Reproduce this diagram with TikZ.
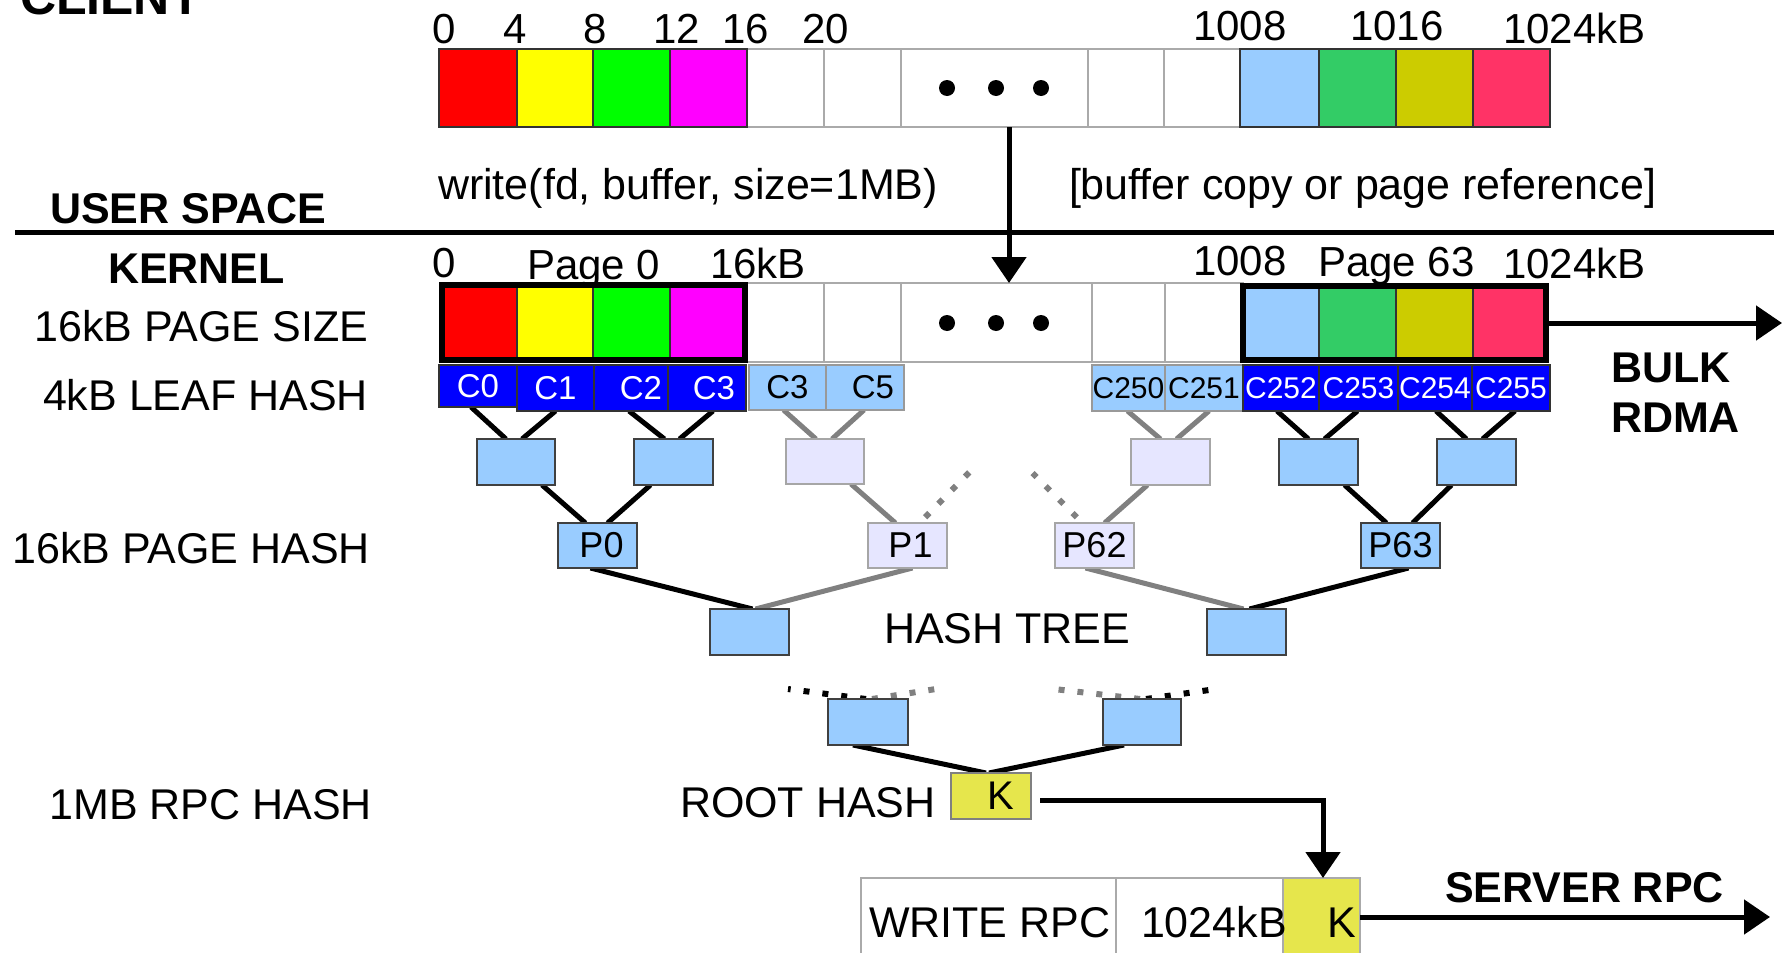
\documentclass[tikz,border=0pt]{standalone}
\usepackage{fontspec}
\setmainfont{Liberation Sans}
\usetikzlibrary{arrows.meta,calc}
\pgfdeclarelayer{bg}
\pgfsetlayers{bg,main}
\definecolor{lblue}{HTML}{99CCFF}
\definecolor{lav}{HTML}{E6E6FF}
\definecolor{dblue}{HTML}{0000FF}
\definecolor{kyel}{HTML}{E6E64C}
\definecolor{cred}{HTML}{FF0000}
\definecolor{cyel}{HTML}{FFFF00}
\definecolor{cgrn}{HTML}{00FF00}
\definecolor{cmag}{HTML}{FF00FF}
\definecolor{cgreen}{HTML}{33CC66}
\definecolor{colive}{HTML}{CCCC00}
\definecolor{cpink}{HTML}{FF3366}
\definecolor{lgray}{HTML}{808080}
\definecolor{cellgray}{HTML}{AAAAAA}
\newcommand\fs[1]{\fontsize{#1}{#1}\selectfont}
\newcommand\bx[7]{\node[#1, minimum width={(#5)-(#3)}, minimum height={(#6)-(#4)}] (#2) at ({((#3)+(#5))/2},{((#4)+(#6))/2}) {#7};}
\begin{document}
\begin{tikzpicture}[x=1pt,y=-1pt,
  cell/.style={draw=cellgray, line width=1.2pt, fill=white, inner sep=0pt, outer sep=0pt},
  ccell/.style={draw=black!80, line width=1.2pt, inner sep=0pt, outer sep=0pt},
  hb/.style={draw=black!75, fill=lblue, line width=1.2pt, inner sep=0pt, outer sep=0pt, font=\fs{36}},
  hl/.style={draw=black!35, fill=lav, line width=1.2pt, inner sep=0pt, outer sep=0pt, font=\fs{36}},
  cd/.style={draw=black!80, fill=dblue, text=white, line width=1.2pt, inner sep=0pt, outer sep=0pt, font=\fs{33}},
  cl/.style={draw=black!40, fill=lblue, line width=1.2pt, inner sep=0pt, outer sep=0pt, font=\fs{33}},
  kbox/.style={draw=black!50, fill=kyel, line width=1.2pt, inner sep=0pt, outer sep=0pt, font=\fs{40}},
  pagebox/.style={draw=black, line width=6pt, inner sep=0pt, outer sep=0pt},
  lbl/.style={inner sep=0pt, outer sep=0pt, anchor=base west, font=\fs{42}},
  rlbl/.style={inner sep=0pt, outer sep=0pt, anchor=base east, font=\fs{43}},
  blbl/.style={inner sep=0pt, outer sep=0pt, anchor=base west, font=\fs{43}\bfseries},
  blk/.style={line width=5pt, black},
  gry/.style={line width=5pt, lgray},
  dotb/.style={line width=6pt, black, dash pattern=on 6pt off 13pt},
  dotg/.style={line width=6pt, lgray, dash pattern=on 6pt off 13pt},
  arr/.style={line width=5pt, -{Triangle[length=26pt,width=34pt]}}
]
\clip (0,0) rectangle (1789,953);
\useasboundingbox (0,0) rectangle (1789,953);

% ---------- left labels ----------
\node[blbl, font=\fs{50}\bfseries] (client) at (20,14) {CLIENT};
\node[blbl] (user) at (50,223) {USER SPACE};
\node[blbl] (kern) at (108,283) {KERNEL};
\node[rlbl] (lps) at (368,341) {16kB PAGE SIZE};
\node[rlbl] (llh) at (368,410) {4kB LEAF HASH};
\node[rlbl] (lph) at (370,563) {16kB PAGE HASH};
\node[rlbl] (lrh) at (372,819) {1MB RPC HASH};

% separator
\draw[line width=5pt] (15,232) -- (1774,232);

% ---------- user buffer ----------
\bx{cell}{u5}{747}{49}{824}{127}{}
\bx{cell}{u6}{824}{49}{901}{127}{}
\bx{cell}{u7}{901}{49}{1088}{127}{}
\bx{cell}{u8}{1088}{49}{1164}{127}{}
\bx{cell}{u9}{1164}{49}{1240}{127}{}
\bx{ccell,fill=cred}{u1}{439}{49}{517}{127}{}
\bx{ccell,fill=cyel}{u2}{517}{49}{593}{127}{}
\bx{ccell,fill=cgrn}{u3}{593}{49}{670}{127}{}
\bx{ccell,fill=cmag}{u4}{670}{49}{747}{127}{}
\bx{ccell,fill=lblue}{u10}{1240}{49}{1319}{127}{}
\bx{ccell,fill=cgreen}{u11}{1319}{49}{1396}{127}{}
\bx{ccell,fill=colive}{u12}{1396}{49}{1473}{127}{}
\bx{ccell,fill=cpink}{u13}{1473}{49}{1550}{127}{}
\fill (947,88) circle (8pt) (996,88) circle (8pt) (1041,88) circle (8pt);

\node[lbl] (t0) at (432,43) {0};
\node[lbl] (t4) at (503,43) {4};
\node[lbl] (t8) at (583,43) {8};
\node[lbl] (t12) at (653,43) {12};
\node[lbl] (t16) at (722,43) {16};
\node[lbl] (t20) at (802,43) {20};
\node[lbl] (t1008) at (1193,40) {1008};
\node[lbl] (t1016) at (1350,40) {1016};
\node[lbl] (t1024) at (1503,43) {1024kB};

\node[lbl, font=\fs{43}] (wr) at (438,199) {write(fd, buffer, size=1MB)};
\node[lbl, font=\fs{43}] (bc) at (1069,199) {[buffer copy or page reference]};

% ---------- kernel pages ----------
\bx{cell}{kw1}{745}{283}{824}{362}{}
\bx{cell}{kw2}{824}{283}{901}{362}{}
\bx{cell}{kw3}{901}{283}{1092}{362}{}
\bx{cell}{kw4}{1092}{283}{1165}{362}{}
\bx{cell}{kw5}{1165}{283}{1243}{362}{}
\bx{ccell,fill=cred}{k1}{442}{285}{517}{360}{}
\bx{ccell,fill=cyel}{k2}{517}{285}{593}{360}{}
\bx{ccell,fill=cgrn}{k3}{593}{285}{670}{360}{}
\bx{ccell,fill=cmag}{k4}{670}{285}{745}{360}{}
\bx{ccell,fill=lblue}{k10}{1243}{286}{1319}{360}{}
\bx{ccell,fill=cgreen}{k11}{1319}{286}{1396}{360}{}
\bx{ccell,fill=colive}{k12}{1396}{286}{1473}{360}{}
\bx{ccell,fill=cpink}{k13}{1473}{286}{1546}{360}{}
\bx{pagebox}{pg0}{442}{285}{745}{360}{}
\bx{pagebox}{pg63}{1243}{286}{1546}{360}{}
\fill (947,323) circle (8pt) (996,323) circle (8pt) (1041,323) circle (8pt);

\node[lbl] (k0) at (432,277) {0};
\node[lbl] (kp0) at (527,279) {Page 0};
\node[lbl] (k16) at (710,278) {16kB};
\node[lbl] (k1008) at (1193,275) {1008};
\node[lbl] (kp63) at (1318,276) {Page 63};
\node[lbl] (k1024) at (1503,278) {1024kB};

\node[blbl] (bulk) at (1611,382) {BULK};
\node[blbl] (rdma) at (1611,432) {RDMA};

% ---------- leaf hashes ----------
\bx{cd}{c0}{439}{365}{517}{407}{C0}
\bx{cd}{c1}{517}{365}{594}{411}{C1}
\bx{cd}{c2}{594}{365}{668}{411}{\hspace{20pt}C2}
\bx{cd}{c3}{668}{365}{746}{411}{\hspace{14pt}C3}
\bx{cl}{c3b}{749}{365}{826}{410}{C3}
\bx{cl}{c5}{826}{365}{904}{410}{\hspace{16pt}C5}
\bx{cl,font=\fs{30}}{c250}{1092}{365}{1165}{411}{C250}
\bx{cl,font=\fs{30}}{c251}{1165}{365}{1243}{411}{C251}
\bx{cd,font=\fs{30}}{c252}{1243}{365}{1319}{411}{C252}
\bx{cd,font=\fs{30}}{c253}{1319}{365}{1398}{411}{C253}
\bx{cd,font=\fs{30}}{c254}{1398}{365}{1472}{411}{C254}
\bx{cd,font=\fs{30}}{c255}{1472}{365}{1550}{411}{C255}

% ---------- tree ----------
\bx{hb}{a1}{477}{439}{555}{485}{}
\bx{hb}{a2}{634}{439}{713}{485}{}
\bx{hl}{a3}{786}{439}{864}{484}{}
\bx{hl}{a4}{1131}{439}{1210}{485}{}
\bx{hb}{a5}{1279}{439}{1358}{485}{}
\bx{hb}{a6}{1437}{439}{1516}{485}{}
\bx{hb}{p0}{558}{523}{637}{568}{\hspace{8pt}P0}
\bx{hl}{p1}{868}{523}{947}{568}{\hspace{6pt}P1}
\bx{hl}{p62}{1055}{523}{1134}{568}{P62}
\bx{hb}{p63}{1361}{523}{1440}{568}{P63}
\bx{hb}{h1}{710}{609}{789}{655}{}
\bx{hb}{h2}{1207}{609}{1286}{655}{}
\bx{hb}{g1}{828}{699}{908}{745}{}
\bx{hb}{g2}{1103}{699}{1181}{745}{}
\bx{kbox}{k}{951}{773}{1031}{819}{\hspace{20pt}K}

\node[lbl, font=\fs{43}] (ht) at (884,643) {HASH TREE};
\node[lbl, font=\fs{43}] (rh) at (680,817) {ROOT HASH};

% ---------- RPC ----------
\bx{cell}{rpc}{861}{878}{1116}{956}{}
\bx{cell}{rsz}{1116}{878}{1283}{956}{}
\bx{cell,fill=kyel}{kb}{1283}{878}{1360}{956}{}
\node[lbl, font=\fs{43}] (rpct) at (869,937) {WRITE RPC};
\node[lbl, font=\fs{43}] (rszt) at (1141,937) {1024kB};
\node[lbl, font=\fs{43}] (kbt) at (1327,937) {K};
\node[blbl] (srv) at (1445,902) {SERVER RPC};

% ---------- connectors (behind boxes) ----------
\begin{pgfonlayer}{bg}
\draw[blk] ($(c0.south)+(-7,0)$) -- ($(a1.north)+(-10,0)$);
\draw[blk] ($(c1.south)+(0,0)$) -- ($(a1.north)+(6,0)$);
\draw[blk] ($(c2.south)+(-2,0)$) -- ($(a2.north)+(-9,0)$);
\draw[blk] ($(c3.south)+(6,0)$) -- ($(a2.north)+(6,0)$);
\draw[gry] ($(c3b.south)+(-4,0)$) -- ($(a3.north)+(-9,0)$);
\draw[gry] ($(c5.south)+(-1,0)$) -- ($(a3.north)+(7,0)$);
\draw[gry] ($(c250.south)+(-1,0)$) -- ($(a4.north)+(-10,0)$);
\draw[gry] ($(c251.south)+(5,0)$) -- ($(a4.north)+(6,0)$);
\draw[blk] ($(c252.south)+(-4,0)$) -- ($(a5.north)+(-10,0)$);
\draw[blk] ($(c253.south)+(-1,0)$) -- ($(a5.north)+(6,0)$);
\draw[blk] ($(c254.south)+(1,0)$) -- ($(a6.north)+(-10,0)$);
\draw[blk] ($(c255.south)+(4,0)$) -- ($(a6.north)+(6,0)$);

\draw[blk] ($(a1.south)+(26,0)$) -- ($(p0.north)+(-12,0)$);
\draw[blk] ($(a2.south)+(-23,0)$) -- ($(p0.north)+(10,0)$);
\draw[gry] ($(a3.south)+(26,0)$) -- ($(p1.north)+(-12,0)$);
\draw[dotg, dash phase=11pt] ($(p1.north)+(12,0)$) -- ($(p1.north)+(62,-51)$);
\draw[gry] ($(a4.south)+(-23,0)$) -- ($(p62.north)+(10,0)$);
\draw[dotg, dash phase=11pt] ($(p62.north)+(-12,0)$) -- ($(p62.north)+(-62,-50)$);
\draw[blk] ($(a5.south)+(26,0)$) -- ($(p63.north)+(-14,0)$);
\draw[blk] ($(a6.south)+(-25,0)$) -- ($(p63.north)+(12,0)$);

\draw[blk] ($(p0.south)+(-7,0)$) -- ($(h1.north)+(3,0)$);
\draw[gry] ($(p1.south)+(5,0)$) -- ($(h1.north)+(6,0)$);
\draw[gry] ($(p62.south)+(-9,0)$) -- ($(h2.north)+(-3,0)$);
\draw[blk] ($(p63.south)+(8,0)$) -- ($(h2.north)+(3,0)$);

\draw[dotb] ($(g1.north)+(-2,0)$) -- ($(g1.north)+(-80,-10)$);
\draw[dotg] ($(g1.north)+(4,0)$) -- ($(g1.north)+(68,-10)$);
\draw[dotg] ($(g2.north)+(-2,0)$) -- ($(g2.north)+(-88,-10)$);
\draw[dotb] ($(g2.north)+(4,0)$) -- ($(g2.north)+(74,-10)$);

\draw[blk] ($(g1.south)+(-15,0)$) -- ($(k.north)+(-5,0)$);
\draw[blk] ($(g2.south)+(-18,0)$) -- ($(k.north)+(-2,0)$);
\end{pgfonlayer}

% ---------- arrows ----------
\coordinate (bulkend) at (1782,323);
\coordinate (srvend) at (1770,917);
\draw[arr] ($(u7.south)+(14.5,0)$) -- ($(kw3.north)+(12.5,0)$);
\draw[arr] (pg63.east) -- (bulkend);
\draw[arr] ($(k.east)+(9,4)$) -| ($(kb.north)+(1.5,0)$);
\draw[arr] (kb.east) -- (srvend);
\end{tikzpicture}
\end{document}
